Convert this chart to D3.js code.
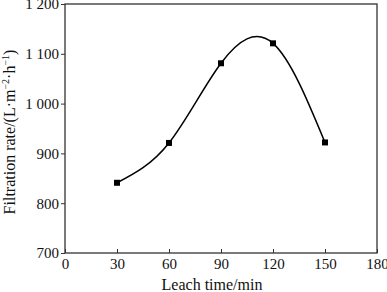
<!DOCTYPE html>
<html>
<head>
<meta charset="utf-8">
<script src="https://cdn.jsdelivr.net/npm/d3@7"></script>
<style>
  html, body { margin: 0; padding: 0; background: #fff; }
  svg { display: block; font-family: "Liberation Serif", "Times New Roman", serif; }
</style>
</head>
<body>
<div id="chart"></div>
<script>
// leach time (min) and filtration rate (L·m-2·h-1)
var leachTime = [30, 60, 90, 120, 150]
var filtrationRate = [841, 921, 1081, 1121, 922]

var xTicks = [0, 30, 60, 90, 120, 150, 180]
var yTicks = [700, 800, 900, 1000, 1100, 1200]
var yTickLabels = ["700", "800", "900", "1 000", "1 100", "1 200"]

var width = 387,
    height = 292,
    plotLeft = 65, plotRight = 377,
    plotTop = 4, plotBottom = 253

var svg = d3.select("#chart")
    .append("svg")
    .attr("width", width)
    .attr("height", height)

var x = d3.scaleLinear().domain([0, 180]).range([plotLeft, plotRight])
var y = d3.scaleLinear().domain([700, 1200]).range([plotBottom, plotTop])

var xAxis = d3.axisBottom(x)
    .tickValues(xTicks)
    .tickSize(-4)
    .tickSizeOuter(0)
    .tickPadding(5)

var yAxis = d3.axisLeft(y)
    .tickValues(yTicks)
    .tickFormat((d, i) => yTickLabels[i])
    .tickSize(4)
    .tickSizeOuter(0)
    .tickPadding(2)

var gx = svg.append("g")
    .attr("transform", "translate(0," + plotBottom + ")")
    .call(xAxis)

var gy = svg.append("g")
    .attr("transform", "translate(" + plotLeft + ",0)")
    .call(yAxis)

;[gx, gy].forEach(g => {
    g.select(".domain").remove()
    g.selectAll("line").attr("stroke", "#333").attr("stroke-width", 1)
    g.selectAll("text")
        .attr("fill", "#111")
        .style("font-size", "15px")
        .style("font-family", "'Liberation Serif', serif")
})

// frame
svg.append("rect")
    .attr("x", plotLeft)
    .attr("y", plotTop)
    .attr("width", plotRight - plotLeft)
    .attr("height", plotBottom - plotTop)
    .attr("fill", "none")
    .attr("stroke", "#333")
    .attr("stroke-width", 1.3)

var pts = leachTime.map((t, i) => [t, filtrationRate[i]])

var line = d3.line()
    .x(d => x(d[0]))
    .y(d => y(d[1]))
    .curve(d3.curveNatural)

svg.append("path")
    .datum(pts)
    .attr("d", line)
    .attr("fill", "none")
    .attr("stroke", "#000")
    .attr("stroke-width", 1.5)

svg.selectAll("rect.pt")
    .data(pts)
    .enter()
    .append("rect")
    .attr("class", "pt")
    .attr("x", d => x(d[0]) - 3)
    .attr("y", d => y(d[1]) - 3)
    .attr("width", 6)
    .attr("height", 6)
    .attr("fill", "#000")

// axis titles
svg.append("text")
    .attr("x", 212)
    .attr("y", 290)
    .attr("text-anchor", "middle")
    .style("font-size", "16px")
    .attr("fill", "#111")
    .text("Leach time/min")

var yl = svg.append("text")
    .attr("transform", "translate(15,132) rotate(-90)")
    .attr("text-anchor", "middle")
    .style("font-size", "16px")
    .attr("fill", "#111")

yl.append("tspan").text("Filtration rate/(L\u00b7m")
yl.append("tspan").attr("dy", -6).style("font-size", "10px").text("\u22122")
yl.append("tspan").attr("dy", 6).text("\u00b7h")
yl.append("tspan").attr("dy", -6).style("font-size", "10px").text("\u22121")
yl.append("tspan").attr("dy", 6).text(")")
</script>
</body>
</html>
